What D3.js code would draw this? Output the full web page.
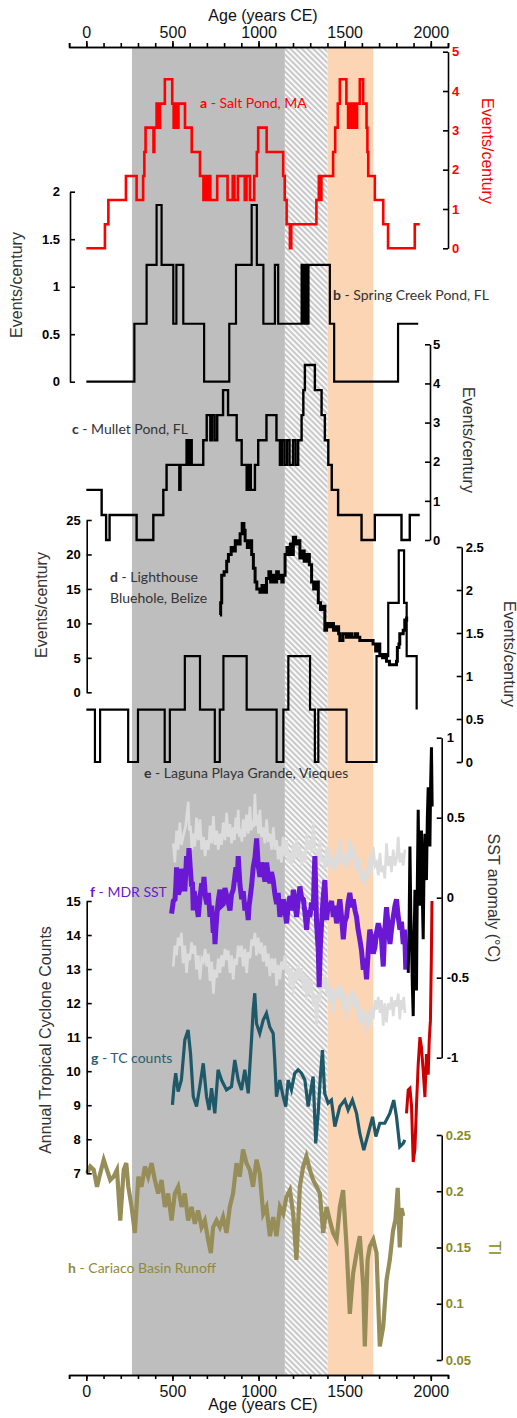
<!DOCTYPE html>
<html>
<head>
<meta charset="utf-8">
<script src="https://cdn.jsdelivr.net/npm/d3@7"></script>
<style>
  body { margin: 0; background: #fff; }
  svg { display: block; font-family: "Liberation Sans", Arial, sans-serif; }
  .lbl { font-family: Lato, "Open Sans", sans-serif; font-size: 14px; }
</style>
</head>
<body>
<svg id="chart" width="517" height="1418"></svg>
<script>
// ---- data ----
const xMajor = [0, 500, 1000, 1500, 2000];
const xMinor = d3.range(-100, 2101, 100);

// climate periods: grey block, hatched transition, orange block
const periodStart = [265, 1153, 1401];
const periodEnd = [1153, 1401, 1666];

// a - Salt Pond, MA (events/century, step)
const saltPond = [[0,0],[108,0.61],[128,1.23],[230,1.84],[292,1.23],[330,1.84],[337,2.45],[344,3.07],[390,2.45],[395,3.07],
  [408,3.68],[420,3.07],[428,3.68],[456,4.3],[499,3.68],[507,3.07],[515,3.68],[520,3.07],[535,3.68],[573,3.07],[612,2.45],
  [660,1.84],[680,1.23],[690,1.84],[700,1.23],[710,1.84],[720,1.23],[760,1.84],[820,1.23],[850,1.84],[860,1.23],[880,1.84],
  [920,1.23],[930,1.84],[950,1.23],[975,1.84],[990,2.45],[998,3.07],[1047,2.45],[1143,1.84],[1152,1.23],[1163,0.61],[1182,0],
  [1190,0.61],[1336,1.23],[1350,1.84],[1358,1.23],[1365,1.84],[1433,2.45],[1445,3.07],[1460,3.68],[1472,4.3],[1510,3.68],
  [1520,3.07],[1527,3.68],[1540,3.07],[1550,3.68],[1565,3.07],[1572,3.68],[1588,4.3],[1607,3.68],[1627,3.07],[1632,2.45],
  [1637,1.84],[1675,1.23],[1724,0.61],[1752,0],[1907,0.61],[1936,0.61]];

// b - Spring Creek Pond, FL
const springCreek = [[0,0],[279,0.61],[350,1.23],[408,1.86],[437,1.23],[505,0.61],[523,1.23],[563,0.61],[684,0],[830,0.61],
  [869,1.23],[960,1.86],[990,1.23],[1028,0.61],[1095,1.23],[1114,0.61],[1250,1.23],[1262,0.61],[1270,1.23],[1282,0.61],
  [1290,1.23],[1414,0.61],[1439,0],[1810,0.61],[1927,0.61]];

// c - Mullet Pond, FL
const mulletPond = [[0,1.28],[89,0.64],[115,0],[135,0.64],[292,0],[389,0.64],[447,1.28],[466,1.92],[540,1.28],[547,1.92],
  [582,2.55],[595,1.92],[600,2.55],[612,1.92],[679,2.55],[699,3.19],[720,2.55],[730,3.19],[745,2.55],[760,3.19],[794,3.83],
  [823,3.19],[873,2.55],[902,1.92],[931,1.28],[945,1.92],[955,1.28],[979,1.92],[998,2.55],[1046,3.19],[1104,2.55],[1124,1.92],
  [1135,2.55],[1150,1.92],[1165,2.55],[1180,1.92],[1200,2.55],[1215,1.92],[1230,2.55],[1250,3.19],[1260,3.83],[1269,4.47],
  [1327,3.83],[1366,3.19],[1385,2.55],[1405,1.92],[1425,1.28],[1462,0.64],[1598,0],[1675,0.64],[1830,0],[1878,0.64],[1936,0.64]];

// d - Lighthouse Bluehole, Belize
const lighthouse = [[776,11.2],[780,13],[786,17],[800,17.5],[815,19],[825,20],[841,21],[855,20.5],[865,22],[880,21.5],[893,23],
  [905,24.5],[915,23.5],[922,22],[935,21],[950,22],[960,20],[970,18],[980,16],[990,15],[1008,14.5],[1020,15.5],[1030,14.5],
  [1046,16.5],[1060,17.5],[1070,16],[1080,17],[1095,16],[1105,17.5],[1115,16.5],[1125,17],[1135,16],[1143,17],[1154,20],
  [1165,21],[1175,20],[1185,21.5],[1195,20],[1202,22.5],[1215,21.5],[1225,22],[1240,19.5],[1255,20.5],[1265,19],[1280,20],
  [1295,18.5],[1308,16],[1320,15],[1335,16],[1347,13],[1360,12],[1375,12.5],[1385,9],[1395,10],[1404,9.5],[1420,10],[1435,9],
  [1450,9.5],[1465,8.5],[1472,7.5],[1490,8.5],[1510,8],[1525,8.5],[1540,8],[1560,8.5],[1575,8],[1588,7.5],[1610,7.5],[1630,7.5],
  [1650,7.5],[1665,7],[1680,6],[1695,7],[1704,5.5],[1720,5],[1735,5.5],[1743,4.5],[1760,4],[1780,4],[1801,4.5],[1806,6.5],
  [1815,7],[1820,8.5],[1840,9],[1849,10.5],[1860,11]];

// e - Laguna Playa Grande, Vieques
const lagunaPlaya = [[0,0.61],[50,0],[80,0.61],[243,0],[300,0.61],[455,0],[485,0.61],[572,1.23],[660,0.61],[746,0],[775,0.61],
  [796,1.23],[931,0.61],[1105,0],[1144,0.61],[1173,1.23],[1299,0.61],[1327,0],[1347,0.61],[1511,0],[1685,1.23],[1753,1.85],
  [1814,2.46],[1845,1.85],[1860,1.23],[1918,0.61]];

// f - MDR SST anomaly (°C), with upper / lower bounds and instrumental record
const mdrSST = [[495,-0.1],[505,-0.02],[515,-0.01],[520,0.08],[524,0.19],[534,0.02],[544,0.05],[553,0.18],[563,0.13],[572,0.04],
  [582,0.26],[589,0.15],[596,0.31],[604,0.18],[611,0.07],[616,0.1],[621,-0.08],[626,0.04],[631,0.01],[640,-0.04],[650,-0.12],
  [660,0.0],[670,0.09],[676,0.02],[683,0.13],[692,0.0],[700,-0.04],[709,0.03],[718,-0.12],[728,-0.05],[737,-0.22],[742,-0.12],
  [747,-0.29],[752,-0.2],[757,-0.12],[766,-0.02],[776,0.05],[785,-0.05],[795,-0.04],[805,0.06],[815,0.01],[824,-0.03],
  [834,-0.08],[843,0.02],[853,0.05],[861,0.12],[869,0.19],[876,0.1],[882,0.26],[892,0.08],[902,-0.01],[911,0.04],[921,-0.08],
  [930,-0.03],[940,-0.14],[945,-0.05],[950,-0.01],[960,0.08],[969,0.19],[979,0.25],[989,0.37],[998,0.2],[1008,0.13],[1017,0.22],
  [1027,0.17],[1037,0.1],[1047,0.22],[1056,0.14],[1066,0.09],[1075,0.16],[1085,0.11],[1095,0.02],[1105,-0.04],[1114,0.03],
  [1124,-0.12],[1134,-0.05],[1144,-0.01],[1153,-0.08],[1163,-0.16],[1172,-0.05],[1182,0.01],[1192,-0.08],[1202,0.05],
  [1211,-0.03],[1221,-0.12],[1230,-0.02],[1240,0.07],[1250,0.0],[1260,-0.01],[1270,-0.1],[1279,-0.2],[1288,-0.08],[1298,-0.12],
  [1308,-0.03],[1318,-0.08],[1322,0.1],[1327,0.26],[1332,0.05],[1337,-0.16],[1342,-0.25],[1347,-0.33],[1352,-0.56],[1359,-0.3],
  [1366,-0.16],[1375,0.0],[1385,0.11],[1390,-0.02],[1395,-0.14],[1404,-0.05],[1414,-0.06],[1424,-0.02],[1434,-0.12],
  [1443,-0.05],[1453,-0.16],[1463,-0.08],[1472,-0.01],[1482,-0.12],[1492,-0.26],[1501,-0.15],[1511,-0.12],[1520,-0.03],
  [1530,0.03],[1540,-0.06],[1550,-0.01],[1560,-0.08],[1569,-0.12],[1578,-0.2],[1588,-0.26],[1598,-0.33],[1608,-0.45],
  [1617,-0.38],[1627,-0.51],[1632,-0.42],[1637,-0.33],[1646,-0.2],[1656,-0.24],[1666,-0.35],[1676,-0.31],[1685,-0.22],
  [1695,-0.16],[1705,-0.2],[1714,-0.26],[1719,-0.35],[1724,-0.43],[1733,-0.2],[1743,-0.06],[1753,-0.18],[1763,-0.29],
  [1772,-0.2],[1782,-0.12],[1792,-0.05],[1801,-0.01],[1811,-0.12],[1821,-0.2],[1830,-0.15],[1840,-0.29],[1848,-0.2],[1855,-0.45]];
const sstUpper = [[505,0.34],[514,0.22],[524,0.42],[533,0.3],[543,0.47],[552,0.33],[562,0.38],[577,0.45],[592,0.6],[598,0.42],
  [605,0.45],[613,0.3],[621,0.4],[630,0.32],[640,0.5],[650,0.36],[660,0.49],[670,0.3],[680,0.38],[690,0.26],[699,0.36],[709,0.3],
  [718,0.45],[728,0.34],[738,0.51],[747,0.33],[757,0.42],[766,0.3],[776,0.4],[785,0.33],[795,0.47],[805,0.36],[815,0.53],
  [824,0.38],[834,0.46],[843,0.34],[853,0.44],[860,0.36],[868,0.5],[875,0.4],[882,0.55],[889,0.38],[896,0.43],[903,0.35],
  [911,0.49],[920,0.38],[930,0.52],[940,0.4],[950,0.57],[957,0.42],[965,0.48],[972,0.44],[979,0.65],[986,0.45],[993,0.52],
  [1000,0.4],[1008,0.55],[1017,0.38],[1027,0.44],[1037,0.34],[1047,0.49],[1056,0.35],[1066,0.4],[1076,0.3],[1086,0.44],
  [1095,0.3],[1105,0.36],[1114,0.24],[1124,0.32],[1133,0.22],[1143,0.38],[1153,0.26],[1163,0.36],[1172,0.22],[1182,0.28],
  [1192,0.2],[1202,0.34],[1211,0.24],[1221,0.37],[1230,0.25],[1240,0.32],[1250,0.2],[1260,0.29],[1270,0.22],[1279,0.4],
  [1288,0.3],[1298,0.36],[1308,0.28],[1318,0.47],[1327,0.3],[1337,0.3],[1347,0.2],[1357,0.36],[1366,0.22],[1376,0.25],
  [1385,0.18],[1395,0.32],[1404,0.2],[1414,0.3],[1424,0.18],[1434,0.24],[1443,0.16],[1453,0.3],[1463,0.2],[1473,0.36],
  [1482,0.22],[1492,0.26],[1501,0.18],[1511,0.3],[1520,0.2],[1530,0.36],[1540,0.24],[1550,0.32],[1560,0.18],[1569,0.27],
  [1579,0.15],[1589,0.24],[1598,0.1],[1608,0.16],[1617,0.08],[1627,0.19],[1637,0.12],[1646,0.26],[1656,0.16],[1666,0.32],
  [1676,0.2],[1685,0.22],[1695,0.14],[1705,0.28],[1714,0.16],[1724,0.2],[1733,0.12],[1743,0.34],[1753,0.2],[1763,0.26],
  [1772,0.16],[1782,0.3],[1792,0.2],[1801,0.24],[1806,0.3],[1811,0.38],[1820,0.22],[1830,0.28],[1840,0.2],[1850,0.3]];
const sstLower = [[505,-0.43],[514,-0.3],[524,-0.36],[533,-0.25],[543,-0.3],[552,-0.22],[562,-0.41],[572,-0.3],[582,-0.47],
  [591,-0.35],[601,-0.39],[611,-0.28],[621,-0.35],[630,-0.3],[640,-0.45],[650,-0.36],[660,-0.51],[670,-0.38],[680,-0.4],
  [690,-0.32],[699,-0.43],[709,-0.35],[718,-0.52],[728,-0.4],[738,-0.6],[747,-0.45],[757,-0.5],[766,-0.38],[776,-0.47],
  [785,-0.36],[795,-0.43],[805,-0.32],[815,-0.39],[824,-0.33],[834,-0.47],[843,-0.36],[853,-0.51],[862,-0.38],[872,-0.42],
  [882,-0.3],[892,-0.37],[901,-0.3],[911,-0.43],[921,-0.32],[931,-0.47],[940,-0.34],[950,-0.38],[960,-0.26],[969,-0.3],
  [979,-0.22],[988,-0.36],[998,-0.25],[1008,-0.35],[1017,-0.28],[1027,-0.4],[1037,-0.3],[1047,-0.43],[1056,-0.35],[1066,-0.49],
  [1076,-0.38],[1086,-0.47],[1095,-0.38],[1105,-0.55],[1114,-0.42],[1124,-0.51],[1133,-0.4],[1143,-0.45],[1153,-0.36],
  [1163,-0.47],[1172,-0.42],[1182,-0.55],[1192,-0.44],[1202,-0.6],[1211,-0.46],[1221,-0.52],[1230,-0.42],[1240,-0.51],
  [1250,-0.44],[1260,-0.58],[1270,-0.48],[1279,-0.64],[1288,-0.5],[1298,-0.6],[1308,-0.52],[1318,-0.68],[1327,-0.6],
  [1337,-0.8],[1347,-0.62],[1357,-0.64],[1366,-0.5],[1376,-0.57],[1385,-0.48],[1395,-0.6],[1404,-0.52],[1414,-0.66],
  [1424,-0.56],[1434,-0.72],[1443,-0.6],[1453,-0.62],[1463,-0.54],[1473,-0.64],[1482,-0.56],[1492,-0.7],[1501,-0.6],
  [1511,-0.76],[1520,-0.62],[1530,-0.66],[1540,-0.58],[1550,-0.68],[1560,-0.6],[1569,-0.74],[1579,-0.64],[1589,-0.8],
  [1598,-0.7],[1608,-0.78],[1617,-0.7],[1627,-0.85],[1637,-0.72],[1646,-0.8],[1656,-0.68],[1666,-0.76],[1676,-0.64],
  [1685,-0.7],[1695,-0.62],[1705,-0.72],[1714,-0.64],[1724,-0.8],[1733,-0.66],[1743,-0.78],[1753,-0.66],[1763,-0.7],
  [1772,-0.62],[1782,-0.74],[1792,-0.64],[1801,-0.68],[1811,-0.6],[1820,-0.76],[1828,-0.64],[1835,-0.7],[1843,-0.62],[1850,-0.72]];
const sstInstrumental = [[1869,-0.47],[1874,-0.2],[1879,0.32],[1884,-0.1],[1888,-0.26],[1893,-0.55],[1898,-0.74],[1903,-0.3],
  [1908,0.05],[1912,-0.35],[1917,-0.58],[1922,0.1],[1927,0.55],[1932,0.1],[1937,-0.05],[1941,0.3],[1946,0.42],[1951,0.0],
  [1956,-0.26],[1961,0.2],[1966,0.4],[1970,0.25],[1975,0.11],[1980,0.5],[1985,0.69],[1990,0.45],[1995,0.32],[1999,0.7],
  [2004,0.94],[2008,0.57]];

// g - annual TC counts (modelled) and observed
const tcCounts = [[500,9.01],[509,9.55],[519,9.94],[533,9.4],[552,9.74],[572,10.92],[591,11.21],[605,10.52],[621,9.25],[640,8.96],
  [659,9.55],[679,10.23],[698,9.25],[713,8.86],[727,9.5],[746,8.76],[765,10.04],[785,9.74],[814,9.45],[843,9.55],[862,10.33],
  [882,9.74],[901,9.45],[920,10.04],[940,9.35],[959,10.92],[969,11.8],[978,12.29],[988,11.4],[1007,11.11],[1027,11.5],
  [1046,11.7],[1065,11.3],[1085,11.11],[1094,10.33],[1104,9.25],[1123,9.74],[1143,9.25],[1158,8.96],[1172,9.74],[1191,9.45],
  [1210,9.94],[1230,10.04],[1249,9.94],[1269,9.74],[1288,8.96],[1307,9.55],[1317,9.84],[1332,7.88],[1346,8.76],[1359,9.84],
  [1371,10.62],[1384,9.35],[1404,9.06],[1423,9.15],[1443,8.37],[1472,8.96],[1501,9.15],[1520,8.86],[1545,9.15],[1569,8.76],
  [1588,8.17],[1611,7.68],[1637,8.17],[1662,8.66],[1681,8.08],[1704,8.47],[1733,8.47],[1762,8.76],[1785,9.15],[1801,8.66],
  [1820,7.78],[1840,7.88],[1849,7.98]];
const tcObserved = [[1859,8.76],[1869,9.45],[1879,9.5],[1888,9.0],[1898,7.33],[1908,7.72],[1917,9.0],[1927,10.2],[1937,11.0],
  [1946,10.7],[1956,10.0],[1966,9.24],[1975,10.5],[1985,9.9],[1991,10.9],[1998,11.5],[2003,13.2],[2007,15.0]];

// h - Cariaco Basin runoff (Ti)
const cariacoTi = [[4,0.216],[23,0.222],[43,0.219],[62,0.204],[81,0.216],[101,0.228],[120,0.219],[139,0.21],[159,0.213],[178,0.219],
  [197,0.174],[217,0.219],[232,0.225],[244,0.204],[263,0.186],[282,0.163],[302,0.213],[321,0.204],[340,0.222],[359,0.213],
  [379,0.225],[398,0.21],[417,0.198],[437,0.21],[456,0.186],[475,0.198],[495,0.174],[514,0.198],[533,0.204],[553,0.186],
  [572,0.198],[591,0.174],[611,0.186],[630,0.171],[649,0.183],[669,0.168],[688,0.174],[707,0.157],[723,0.145],[736,0.168],
  [756,0.174],[775,0.168],[794,0.177],[814,0.163],[833,0.186],[852,0.198],[872,0.225],[891,0.213],[910,0.237],[930,0.225],
  [949,0.219],[968,0.204],[988,0.228],[1007,0.216],[1027,0.18],[1046,0.186],[1066,0.16],[1085,0.177],[1104,0.16],[1124,0.186],
  [1143,0.18],[1162,0.195],[1182,0.201],[1201,0.18],[1220,0.139],[1240,0.204],[1259,0.222],[1278,0.231],[1298,0.219],
  [1317,0.21],[1337,0.204],[1356,0.198],[1375,0.163],[1395,0.186],[1414,0.174],[1433,0.163],[1453,0.157],[1472,0.186],
  [1491,0.201],[1511,0.151],[1530,0.091],[1549,0.127],[1569,0.145],[1588,0.16],[1608,0.115],[1617,0.062],[1633,0.139],
  [1646,0.151],[1666,0.157],[1685,0.145],[1704,0.062],[1724,0.08],[1743,0.121],[1762,0.139],[1781,0.165],[1795,0.175],
  [1808,0.203],[1820,0.15],[1830,0.185],[1840,0.178]];

// ---- chart ----
const svg = d3.select("#chart");
const x = d3.scaleLinear().domain([-100, 2100]).range([69.1, 448]);
const axisTopY = 47, axisBottomY = 1375;

const ya = d3.scaleLinear().domain([0, 5]).range([248.3, 51.7]);
const yb = d3.scaleLinear().domain([0, 2]).range([381.7, 191.7]);
const yc = d3.scaleLinear().domain([0, 5]).range([540, 344.3]);
const yd = d3.scaleLinear().domain([0, 25]).range([692.3, 520]);
const ye = d3.scaleLinear().domain([0, 2.5]).range([762, 547]);
const ySST = d3.scaleLinear().domain([-1, 1]).range([1057.7, 737.7]);
const yTC = d3.scaleLinear().domain([7, 15]).range([1173.3, 901]);
const yTI = d3.scaleLinear().domain([0.05, 0.25]).range([1360, 1135]);

// hatch pattern for the transition period
const defs = svg.append("defs");
const pat = defs.append("pattern").attr("id", "hatch").attr("patternUnits", "userSpaceOnUse")
  .attr("width", 4).attr("height", 4).attr("patternTransform", "rotate(-45)");
pat.append("rect").attr("width", 4).attr("height", 4).attr("fill", "#c9c9c9");
pat.append("rect").attr("width", 1.8).attr("height", 4).attr("fill", "#ffffff");

const periodFill = ["#bebebe", "url(#hatch)", "#fcd5b5"];
svg.append("g").selectAll("rect").data(periodStart).join("rect")
  .attr("x", d => x(d))
  .attr("width", (d, i) => x(periodEnd[i]) - x(d))
  .attr("y", axisTopY)
  .attr("height", axisBottomY - axisTopY)
  .attr("fill", (d, i) => periodFill[i]);

function drawLine(data, y, color, width, curve) {
  svg.append("path").datum(data)
    .attr("fill", "none").attr("stroke", color).attr("stroke-width", width)
    .attr("stroke-linejoin", "miter")
    .attr("d", d3.line().x(d => x(d[0])).y(d => y(d[1])).curve(curve || d3.curveLinear));
}

// SST uncertainty first (behind)
drawLine(sstUpper, ySST, "#dcdcdc", 2.6);
drawLine(sstLower, ySST, "#dcdcdc", 2.6);

drawLine(saltPond, ya, "#ff0000", 2.6, d3.curveStepAfter);
drawLine(springCreek, yb, "#000", 2.2, d3.curveStepAfter);
drawLine(mulletPond, yc, "#000", 2.4, d3.curveStepAfter);
drawLine(lighthouse, yd, "#000", 3, d3.curveStepAfter);
drawLine(lagunaPlaya, ye, "#000", 2.2, d3.curveStepAfter);
drawLine(mdrSST, ySST, "#6a18d4", 5);
drawLine(sstInstrumental, ySST, "#000", 3);
drawLine(tcCounts, yTC, "#1f5869", 3.2);
drawLine(tcObserved, yTC, "#cc0000", 3);
drawLine(cariacoTi, yTI, "#978d58", 4.2);

// x axes
function xAxis(gen, yPos, pad) {
  svg.append("g").attr("transform", `translate(0,${yPos})`)
    .call(gen(x).tickValues(xMinor).tickSize(4).tickFormat(""))
    .call(g => g.selectAll("line,path").attr("stroke", "#000").attr("stroke-width", 1.6));
  const g = svg.append("g").attr("transform", `translate(0,${yPos})`)
    .call(gen(x).tickValues(xMajor).tickSizeInner(6).tickSizeOuter(0).tickPadding(pad).tickFormat(d => String(d)))
    .call(g => g.selectAll("line,path").attr("stroke", "#000").attr("stroke-width", 1.6));
  g.selectAll(".tick text").style("font-size", "16px").style("font-family", "'Liberation Sans', Arial, sans-serif").attr("fill", "#111");
}
xAxis(d3.axisTop, axisTopY, 3);
xAxis(d3.axisBottom, axisBottomY, 5);

// y axes
function yAxis(scale, xPos, side, vals, pad, color) {
  const gen = side === "right" ? d3.axisRight(scale) : d3.axisLeft(scale);
  const g = svg.append("g").attr("transform", `translate(${xPos},0)`)
    .call(gen.tickValues(vals).tickSizeInner(-5).tickSizeOuter(0).tickPadding(pad).tickFormat(d => String(d)));
  g.selectAll("line,path").attr("stroke", "#000").attr("stroke-width", 1.6);
  g.selectAll(".tick text").attr("fill", color).style("font-weight", "bold").style("font-size", "13px")
    .style("font-family", "'Liberation Sans', Arial, sans-serif");
}
yAxis(ya, 448, "right", [0, 1, 2, 3, 4, 5], 4, "#ff0000");
yAxis(yb, 70, "left", [0, 0.5, 1, 1.5, 2], 10, "#000");
yAxis(yc, 430, "right", [0, 1, 2, 3, 4, 5], 3, "#000");
yAxis(yd, 86.7, "left", [0, 5, 10, 15, 20, 25], 6, "#000");
yAxis(ye, 461.7, "right", [0, 0.5, 1, 1.5, 2, 2.5], 4, "#000");
yAxis(ySST, 441.7, "right", [-1, -0.5, 0, 0.5, 1], 5, "#000");
yAxis(yTC, 86.7, "left", [7, 8, 9, 10, 11, 12, 13, 14, 15], 6, "#000");
yAxis(yTI, 441.7, "right", [0.05, 0.1, 0.15, 0.2, 0.25], 4, "#8a8a1e");

// axis titles
function title(txt, xPos, yPos, rot, color) {
  svg.append("text").attr("transform", `translate(${xPos},${yPos}) rotate(${rot})`)
    .attr("text-anchor", "middle").attr("dominant-baseline", "middle")
    .attr("fill", color).style("font-size", "16px").text(txt);
}
title("Age (years CE)", 263, 17, 0, "#111");
title("Age (years CE)", 263, 1406, 0, "#111");
title("Events/century", 486, 151, 90, "#ff0000");
title("Events/century", 18, 285, -90, "#333");
title("Events/century", 467, 440, 90, "#333");
title("Events/century", 43, 605, -90, "#333");
title("Events/century", 508, 654, 90, "#333");
title("SST anomaly (°C)", 492, 898, 90, "#333");
title("Annual Tropical Cyclone Counts", 47, 1040, -90, "#333");
title("TI", 493, 1248, 90, "#8a8a1e");

// panel labels
function label(letter, rest, xPos, yPos, color) {
  const t = svg.append("text").attr("class", "lbl").attr("x", xPos).attr("y", yPos).attr("fill", color);
  t.append("tspan").style("font-weight", "bold").text(letter);
  t.append("tspan").text(rest);
  return t;
}
label("a", " - Salt Pond, MA", 200, 108, "#ff0000");
label("b", " - Spring Creek Pond, FL", 333, 300, "#333");
label("c", " - Mullet Pond, FL", 72, 434, "#333");
label("d", " - Lighthouse", 110, 582, "#333");
svg.append("text").attr("class", "lbl").attr("x", 110).attr("y", 603).attr("fill", "#333").text("Bluehole, Belize");
label("e", " - Laguna Playa Grande, Vieques", 144, 778, "#333");
label("f", " - MDR SST", 90, 897, "#6a18d4");
label("g", " - TC counts", 91, 1063, "#2a5f70");
label("h", " - Cariaco Basin Runoff", 68, 1273, "#8f8a3a");
</script>
</body>
</html>
